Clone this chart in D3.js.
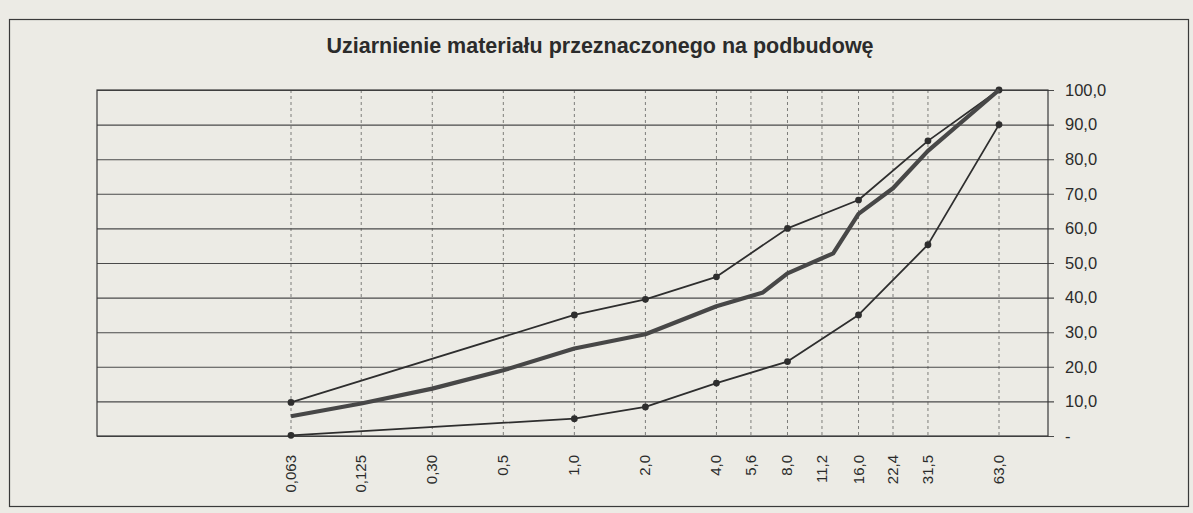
<!DOCTYPE html>
<html>
<head>
<meta charset="utf-8">
<script src="https://cdn.jsdelivr.net/npm/d3@7"></script>
<style>
	body { margin: 0; background: #ecebe5; }
	svg { display: block; font-family: "Liberation Sans", Arial, sans-serif; }
</style>
</head>
<body>
<div id="chart"></div>
<script>
//DATA
//sieve sizes (mm) as placed on the axis and the labels printed under them
var sieveSizes = [0.063, 0.125, 0.25, 0.5, 1, 2, 4, 5.6, 8, 11.2, 16, 22.4, 31.5, 63];
var sieveLabels = ['0,063', '0,125', '0,30', '0,5', '1,0', '2,0', '4,0', '5,6', '8,0', '11,2', '16,0', '22,4', '31,5', '63,0'];

//grading envelope - upper limit
var upperSizes = [0.063, 1, 2, 4, 8, 16, 31.5, 63];
var upperValues = [9.7, 35, 39.5, 46, 60, 68.2, 85.3, 100];

//grading envelope - lower limit
var lowerSizes = [0.063, 1, 2, 4, 8, 16, 31.5, 63];
var lowerValues = [0.2, 5, 8.4, 15.3, 21.5, 35, 55.3, 90];

//tested material (thick curve)
var materialSizes = [0.063, 0.125, 0.25, 0.5, 1, 2, 4, 6.3, 8, 12.5, 16, 22.4, 31.5, 63];
var materialValues = [5.7, 9.4, 13.7, 19, 25.3, 29.4, 37.5, 41.5, 47, 52.8, 64.2, 71.6, 82.4, 100];

var yTicks = [0, 10, 20, 30, 40, 50, 60, 70, 80, 90, 100];

var title = 'Uziarnienie materiału przeznaczonego na podbudowę';

//SET UP
var width = 1193,
    height = 513;

var plot = {left: 97, right: 1048, top: 90, bottom: 436};

var svg = d3.select('#chart').append('svg')
    .attr('width', width)
    .attr('height', height);

//outer chart frame
svg.append('rect')
    .attr('x', 9.5)
    .attr('y', 19.5)
    .attr('width', 1179)
    .attr('height', 487)
    .attr('fill', '#ecebe5')
    .attr('stroke', '#3a3a3a')
    .attr('stroke-width', 1.2);

svg.append('text')
    .attr('x', 600)
    .attr('y', 53)
    .attr('text-anchor', 'middle')
    .style('font-size', '21.5px')
    .style('font-weight', 'bold')
    .style('fill', '#2b2b2b')
    .text(title);

//scales: log2 spacing of the sieve series
var x = d3.scaleLog().base(2)
    .domain([0.063, 63])
    .range([291, 999]);

var y = d3.scaleLinear()
    .domain([0, 100])
    .range([plot.bottom, plot.top]);

//GRID
//vertical dashed lines at every sieve
svg.append('g').selectAll('line')
    .data(sieveSizes)
  .enter().append('line')
    .attr('x1', function(d) { return x(d); })
    .attr('x2', function(d) { return x(d); })
    .attr('y1', plot.top)
    .attr('y2', plot.bottom)
    .attr('stroke', '#7d7d7a')
    .attr('stroke-width', 1)
    .attr('stroke-dasharray', '3,3');

//horizontal lines + right axis
var yAxis = d3.axisRight(y)
    .tickValues(yTicks)
    .tickSize(-(plot.right - plot.left))
    .tickPadding(16)
    .tickFormat(function(d) { return d === 0 ? '-' : d3.format('.1f')(d).replace('.', ','); });

var yAxisG = svg.append('g')
    .attr('transform', 'translate(' + plot.right + ',0)')
    .call(yAxis);

yAxisG.select('.domain').remove();
yAxisG.selectAll('.tick line')
    .attr('x2', 6)
    .attr('x1', -(plot.right - plot.left))
    .attr('stroke', '#4a4a4a')
    .attr('stroke-width', 1.1);
yAxisG.selectAll('.tick text')
    .attr('x', 17)
    .style('font-size', '16.5px')
    .style('fill', '#2b2b2b')
    .style('font-family', '"Liberation Sans", Arial, sans-serif');

//plot frame
svg.append('rect')
    .attr('x', plot.left)
    .attr('y', plot.top)
    .attr('width', plot.right - plot.left)
    .attr('height', plot.bottom - plot.top)
    .attr('fill', 'none')
    .attr('stroke', '#3a3a3a')
    .attr('stroke-width', 1.2);

//x labels, rotated
svg.append('g').selectAll('text')
    .data(sieveSizes)
  .enter().append('text')
    .attr('transform', function(d) { return 'translate(' + (x(d) + 5) + ',' + (plot.bottom + 19) + ') rotate(-90)'; })
    .attr('text-anchor', 'end')
    .style('font-size', '15px')
    .style('fill', '#2b2b2b')
    .text(function(d, i) { return sieveLabels[i]; });

//CURVES
var line = d3.line()
    .x(function(d) { return x(d[0]); })
    .y(function(d) { return y(d[1]); });

function drawCurve(sizes, values, strokeWidth, color, markers) {
	var pts = sizes.map(function(s, i) { return [s, values[i]]; });

	svg.append('path')
	    .datum(pts)
	    .attr('d', line)
	    .attr('fill', 'none')
	    .attr('stroke', color)
	    .attr('stroke-width', strokeWidth)
	    .attr('stroke-linejoin', 'round');

	if (markers) {
		svg.append('g').selectAll('circle')
		    .data(pts)
		  .enter().append('circle')
		    .attr('cx', function(d) { return x(d[0]); })
		    .attr('cy', function(d) { return y(d[1]); })
		    .attr('r', 3.4)
		    .attr('fill', color);
	}
}

drawCurve(lowerSizes, lowerValues, 1.8, '#2e2e2e', true);
drawCurve(upperSizes, upperValues, 1.8, '#2e2e2e', true);
drawCurve(materialSizes, materialValues, 4.2, '#474747', false);
</script>
</body>
</html>
